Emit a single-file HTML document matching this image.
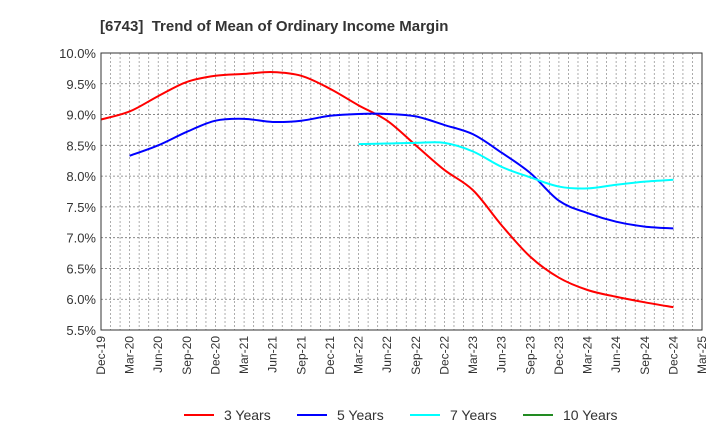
<!DOCTYPE html>
<html><head><meta charset="utf-8"><style>
body{margin:0;background:#fff;font-family:"Liberation Sans",sans-serif;}
svg text{font-family:"Liberation Sans",sans-serif;}
</style></head><body>
<svg id="chart" width="720" height="440" xmlns="http://www.w3.org/2000/svg">
<text x="100" y="31" font-size="15" font-weight="bold" fill="#333">[6743]&#160; Trend of Mean of Ordinary Income Margin</text>
<g id="grid"></g>
<g id="yaxis"></g>
<g id="xaxis"></g>
<g id="series"></g>
<rect x="101" y="53" width="601" height="277" fill="none" stroke="#333" stroke-width="1"/>
<g id="legend"></g>
</svg>
<script>
const categories=["Dec-19","Mar-20","Jun-20","Sep-20","Dec-20","Mar-21","Jun-21","Sep-21","Dec-21","Mar-22","Jun-22","Sep-22","Dec-22","Mar-23","Jun-23","Sep-23","Dec-23","Mar-24","Jun-24","Sep-24","Dec-24","Mar-25"];
const yTicks=[5.5,6.0,6.5,7.0,7.5,8.0,8.5,9.0,9.5,10.0];
const seriesNames=["3 Years","5 Years","7 Years","10 Years"];
const s3=[8.92,9.05,9.3,9.53,9.63,9.66,9.69,9.63,9.42,9.15,8.9,8.5,8.1,7.77,7.2,6.69,6.35,6.15,6.04,5.95,5.87];
const s5=[null,8.33,8.5,8.72,8.9,8.93,8.88,8.9,8.98,9.01,9.01,8.97,8.83,8.68,8.38,8.05,7.6,7.4,7.26,7.18,7.15];
const s7=[null,null,null,null,null,null,null,null,null,8.52,8.53,8.54,8.54,8.4,8.15,7.98,7.83,7.8,7.86,7.91,7.94];
const s10=[];
const colors=["#ff0000","#0000ff","#00ffff","#228b22"];
const NS="http://www.w3.org/2000/svg";
const L=101,R=702,T=53,B=330;
const nMonths=(categories.length-1)*3;
function xq(i){return L+(R-L)*(i*3)/nMonths;}
function xm(m){return L+(R-L)*m/nMonths;}
function y(v){return B-(v-5.5)/(10-5.5)*(B-T);}
function mk(tag,attrs,parent){const e=document.createElementNS(NS,tag);for(const k in attrs)e.setAttribute(k,attrs[k]);parent.appendChild(e);return e;}
const grid=document.getElementById('grid'),ya=document.getElementById('yaxis'),xa=document.getElementById('xaxis'),sg=document.getElementById('series'),lg=document.getElementById('legend');
for(let m=1;m<nMonths;m++){const l=mk('line',{x1:xm(m),x2:xm(m),y1:T,y2:B,stroke:'#999','stroke-dasharray':'2,2','stroke-width':0.8},grid);

}
yTicks.forEach(v=>{const l=mk('line',{x1:L,x2:R,y1:y(v),y2:y(v),stroke:'#777','stroke-dasharray':'2,2','stroke-width':0.8},grid);


const t=mk('text',{x:L-5,y:y(v)+5,'text-anchor':'end','font-size':13,fill:'#333'},ya);t.textContent=v.toFixed(1)+'%';

});
categories.forEach((c,i)=>{const x=xq(i);const t=mk('text',{x:x+4,y:B+6,'text-anchor':'end','font-size':12,fill:'#333',transform:`rotate(-90 ${x+4} ${B+6})`},xa);t.textContent=c;

});
function path(vals){const pts=[];vals.forEach((v,i)=>{if(v!=null)pts.push([xq(i),y(v)]);});if(pts.length<2)return '';
let d=`M${pts[0][0]},${pts[0][1]}`;for(let i=0;i<pts.length-1;i++){const p0=pts[Math.max(0,i-1)],p1=pts[i],p2=pts[i+1],p3=pts[Math.min(pts.length-1,i+2)];
const c1=[p1[0]+(p2[0]-p0[0])/6,p1[1]+(p2[1]-p0[1])/6],c2=[p2[0]-(p3[0]-p1[0])/6,p2[1]-(p3[1]-p1[1])/6];d+=`C${c1[0]},${c1[1]} ${c2[0]},${c2[1]} ${p2[0]},${p2[1]}`;}return d;}
[s3,s5,s7,s10].forEach((s,k)=>{const d=path(s);if(!d)return;const p=mk('path',{d:d,fill:'none',stroke:colors[k],'stroke-width':2},sg);

});
seriesNames.forEach((n,k)=>{const x0=184+k*113;const g=mk('g',{},lg);


mk('line',{x1:x0,x2:x0+30,y1:415,y2:415,stroke:colors[k],'stroke-width':2},g);
const t=mk('text',{x:x0+40,y:420,'font-size':14,fill:'#333'},g);t.textContent=n;});
</script>
</body></html>
